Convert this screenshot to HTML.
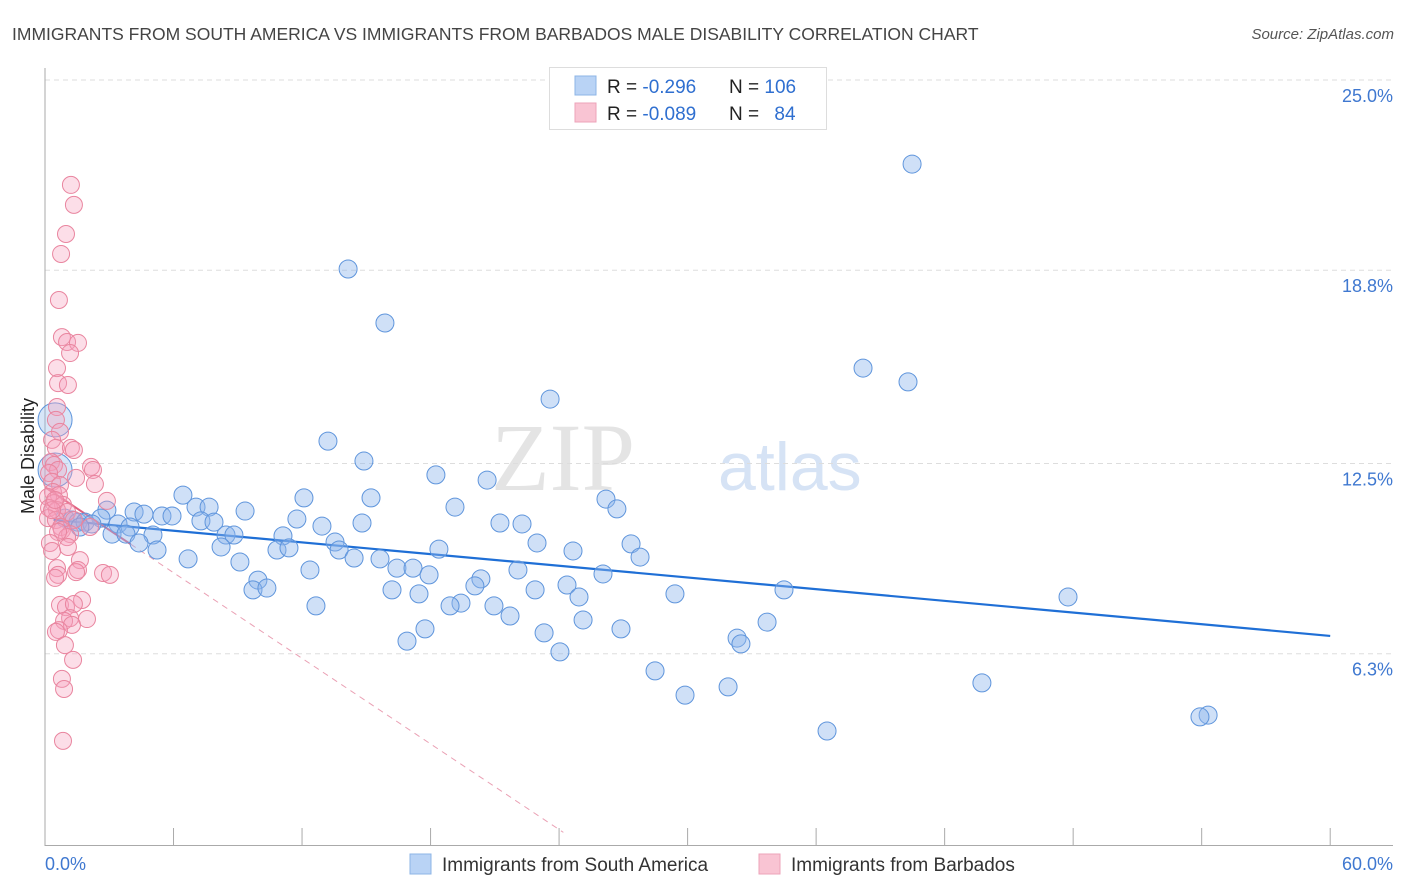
<!DOCTYPE html>
<html><head><meta charset="utf-8"><style>
body{margin:0;background:#fff;font-family:"Liberation Sans",sans-serif;}
svg{display:block}
</style></head><body>
<svg id="chart" width="1406" height="892">
<text x="12" y="40" font-size="17.5" fill="#444">IMMIGRANTS FROM SOUTH AMERICA VS IMMIGRANTS FROM BARBADOS MALE DISABILITY CORRELATION CHART</text>
<text x="1394" y="39" font-size="15" fill="#555" font-style="italic" text-anchor="end">Source: ZipAtlas.com</text>
<text x="635" y="490" font-size="96" fill="#e4e4e4" font-family="Liberation Serif" text-anchor="end">ZIP</text>
<text x="718" y="490" font-size="68" fill="#d6e3f5">atlas</text>
<g id="grid"></g>
<g id="axes"></g>
<g id="trends"></g>
<g id="pts"></g>
<text transform="translate(34,456) rotate(-90)" font-size="18" fill="#222" text-anchor="middle">Male Disability</text>
<g>
<rect x="549.5" y="67.5" width="277" height="62" fill="#fff" stroke="#ddd"/>
<rect x="575" y="76" width="21" height="19" fill="#b9d3f5" stroke="#8db4e6"/>
<rect x="575" y="103" width="21" height="19" fill="#f9c4d3" stroke="#eda3ba"/>
<text x="607" y="93" font-size="19" fill="#222">R = <tspan fill="#2f6fd0">-0.296</tspan></text>
<text x="729" y="93" font-size="19" fill="#222">N = <tspan fill="#2f6fd0">106</tspan></text>
<text x="607" y="120" font-size="19" fill="#222">R = <tspan fill="#2f6fd0">-0.089</tspan></text>
<text x="729" y="120" font-size="19" fill="#222">N = <tspan fill="#2f6fd0" dx="10">84</tspan></text>
</g>
<g>
<rect x="410" y="854" width="21" height="20" fill="#b9d3f5" stroke="#8db4e6"/>
<text x="442" y="871" font-size="19" fill="#333">Immigrants from South America</text>
<rect x="759" y="854" width="21" height="20" fill="#f9c4d3" stroke="#eda3ba"/>
<text x="791" y="871" font-size="19" fill="#333">Immigrants from Barbados</text>
</g>
</svg>
<script>
const yTicks=[6.3,12.5,18.8,25.0];
const yTickLabels=["6.3%","12.5%","18.8%","25.0%"];
const xTickLabels=["0.0%","60.0%"];
const blueTrend=[10.69,6.88];
const pinkTrend=[11.73,-0.465];
const blueBig=[[0.47,13.92],[0.47,12.29]];
const blue=[[40.48,22.26],[14.15,18.84],[15.87,17.08],[38.19,15.61],[40.29,15.16],[23.58,14.60],[13.21,13.23],[14.89,12.58],[18.25,12.13],[20.64,11.96],[6.44,11.47],[12.09,11.38],[15.22,11.38],[26.19,11.34],[7.05,11.08],[7.66,11.08],[19.14,11.08],[26.70,11.02],[2.89,10.98],[4.16,10.92],[9.34,10.95],[4.62,10.85],[5.46,10.79],[5.93,10.79],[2.61,10.72],[11.76,10.69],[7.28,10.63],[7.89,10.59],[0.93,10.72],[1.26,10.66],[1.54,10.59],[1.87,10.59],[2.19,10.53],[3.41,10.53],[3.97,10.43],[12.93,10.46],[14.80,10.56],[21.24,10.56],[22.27,10.53],[1.63,10.43],[3.13,10.20],[3.78,10.20],[5.04,10.17],[8.45,10.17],[8.82,10.17],[11.11,10.14],[13.54,9.94],[4.39,9.91],[22.97,9.91],[8.22,9.78],[5.23,9.68],[10.83,9.68],[11.39,9.75],[13.73,9.68],[27.36,9.88],[24.65,9.65],[18.39,9.71],[6.68,9.39],[14.43,9.42],[15.64,9.39],[27.78,9.45],[9.10,9.29],[16.43,9.09],[12.37,9.03],[17.18,9.09],[22.08,9.03],[17.93,8.87],[26.05,8.90],[9.94,8.70],[20.35,8.74],[24.37,8.54],[20.07,8.51],[9.71,8.38],[10.36,8.44],[16.20,8.38],[17.46,8.25],[22.88,8.38],[29.41,8.25],[34.50,8.38],[47.76,8.15],[24.93,8.15],[19.42,7.95],[18.91,7.86],[20.96,7.86],[12.65,7.86],[21.71,7.53],[25.12,7.40],[33.71,7.33],[17.74,7.11],[23.30,6.98],[26.89,7.11],[32.31,6.81],[16.90,6.71],[32.49,6.62],[24.04,6.36],[28.48,5.74],[29.88,4.95],[31.89,5.22],[43.74,5.35],[54.30,4.30],[53.92,4.24],[36.51,3.78]];
const pink=[[1.21,21.58],[1.35,20.93],[0.98,19.98],[0.75,19.33],[0.65,17.83],[0.79,16.62],[1.03,16.46],[1.54,16.43],[1.17,16.10],[0.56,15.61],[0.61,15.12],[1.07,15.06],[0.56,14.34],[0.51,13.92],[0.70,13.53],[0.33,13.27],[0.51,13.01],[1.21,13.01],[1.35,12.94],[0.28,12.55],[0.42,12.45],[2.15,12.39],[2.24,12.29],[0.61,12.29],[1.45,12.03],[0.19,12.19],[0.33,11.90],[0.70,11.80],[2.33,11.83],[0.37,11.57],[0.65,11.47],[0.14,11.41],[2.89,11.28],[0.42,11.21],[0.84,11.15],[0.19,11.05],[0.56,10.98],[1.03,10.92],[0.14,10.72],[0.51,10.66],[1.35,10.66],[0.75,10.43],[2.10,10.43],[0.79,10.33],[1.17,10.20],[1.03,10.10],[0.61,10.27],[0.23,9.91],[1.07,9.78],[0.33,9.65],[1.63,9.35],[0.56,9.09],[1.54,9.03],[1.45,8.96],[2.71,8.93],[3.03,8.87],[0.61,8.87],[0.47,8.77],[1.73,8.05],[0.70,7.89],[0.98,7.82],[1.35,7.92],[1.96,7.43],[1.17,7.46],[0.89,7.37],[1.26,7.24],[0.65,7.07],[0.51,7.01],[0.93,6.58],[1.31,6.10],[0.79,5.48],[0.89,5.15],[0.84,3.46],[0.33,10.98],[0.47,11.31]];
const NS="http://www.w3.org/2000/svg";
function X(v){return 45+v*21.42;}
function Y(v){return 847-v*30.68;}
function mk(t,a,p){const e=document.createElementNS(NS,t);for(const k in a)e.setAttribute(k,a[k]);p.appendChild(e);return e;}
const grid=document.getElementById('grid'),axes=document.getElementById('axes'),tr=document.getElementById('trends'),pts=document.getElementById('pts');
yTicks.forEach((t,i)=>{
 const l=mk('line',{x1:45,x2:1393,y1:Y(t),y2:Y(t),stroke:'#ddd','stroke-dasharray':'5,4'},grid);
 
 
 const tx=mk('text',{x:1393,y:Y(t)+22,'font-size':18,fill:'#3f78d0','text-anchor':'end'},grid);
 tx.textContent=yTickLabels[i];
 
 
});
let a=mk('line',{x1:45,x2:45,y1:68,y2:846,stroke:'#aaa'},axes);


a=mk('line',{x1:45,x2:1393,y1:845.5,y2:845.5,stroke:'#aaa'},axes);


for(let i=0;i<=10;i++){const t=mk('line',{x1:X(i*6),x2:X(i*6),y1:828,y2:846,stroke:'#aaa'},axes);
 
 }
let t1=mk('text',{x:45,y:870,'font-size':18,fill:'#3f78d0'},axes);t1.textContent=xTickLabels[0];


let t2=mk('text',{x:1393,y:870,'font-size':18,fill:'#3f78d0','text-anchor':'end'},axes);t2.textContent=xTickLabels[1];


blue.forEach(p=>{const c=mk('circle',{cx:X(p[0]),cy:Y(p[1]),r:9,fill:'rgba(140,182,235,0.42)',stroke:'#5f95dc','stroke-width':1},pts);
 
 });
blueBig.forEach(p=>{const c=mk('circle',{cx:X(p[0]),cy:Y(p[1]),r:17,fill:'rgba(140,182,235,0.35)',stroke:'#5f95dc','stroke-width':1},pts);
 
 });
pink.forEach(p=>{const c=mk('circle',{cx:X(p[0]),cy:Y(p[1]),r:8.5,fill:'rgba(245,160,188,0.35)',stroke:'#e9859f','stroke-width':1},pts);
 
 });
let b=mk('line',{x1:X(0.4),y1:Y(blueTrend[0]+(blueTrend[1]-blueTrend[0])*0.4/60),x2:X(60),y2:Y(blueTrend[1]),stroke:'#1f6fd6','stroke-width':2.2},tr);


let ps=mk('line',{x1:X(0),y1:Y(pinkTrend[0]),x2:X(4),y2:Y(pinkTrend[0]+pinkTrend[1]*4),stroke:'#e0607f','stroke-width':2},tr);


const xe=24.2;
let pd=mk('line',{x1:X(4),y1:Y(pinkTrend[0]+pinkTrend[1]*4),x2:X(xe),y2:Y(pinkTrend[0]+pinkTrend[1]*xe),stroke:'#eaa0b4','stroke-width':1,'stroke-dasharray':'6,5'},tr);


</script>
</body></html>
